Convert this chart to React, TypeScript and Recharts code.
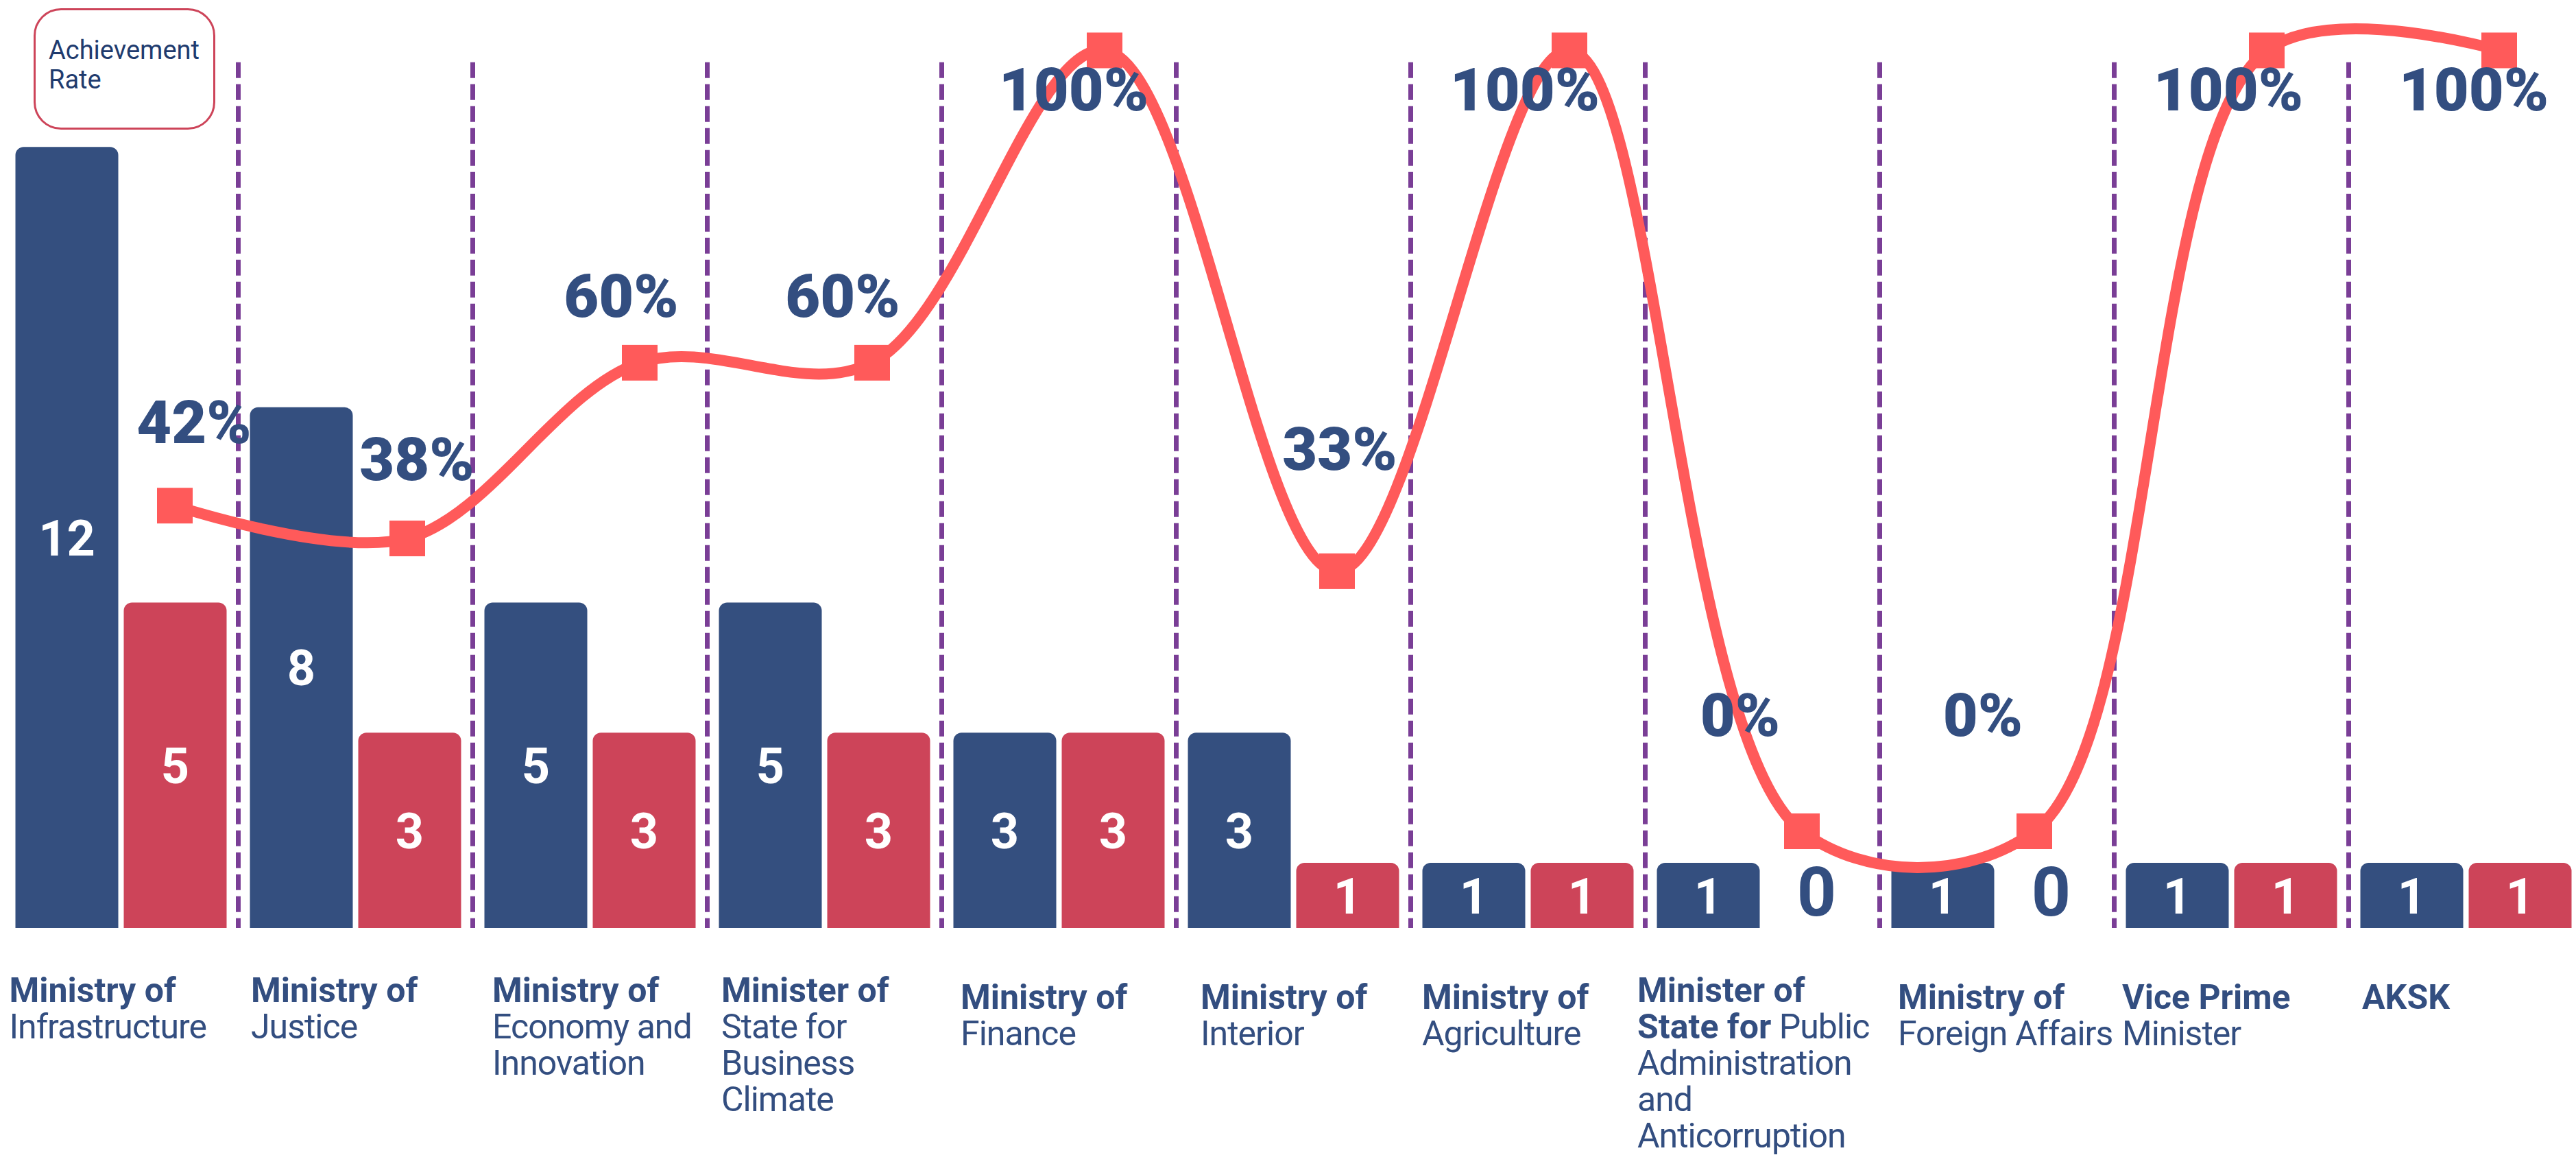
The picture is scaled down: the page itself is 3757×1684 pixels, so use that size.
import React from 'react';
import { ComposedChart, Bar, Line, XAxis, YAxis, ReferenceLine, LabelList } from 'recharts';

// ---------- data ----------
const categories = [
  'Ministry of Infrastructure',
  'Ministry of Justice',
  'Ministry of Economy and Innovation',
  'Minister of State for Business Climate',
  'Ministry of Finance',
  'Ministry of Interior',
  'Ministry of Agriculture',
  'Minister of State for Public Administration and Anticorruption',
  'Ministry of Foreign Affairs',
  'Vice Prime Minister',
  'AKSK',
];
const totalCommitments = [12, 8, 5, 5, 3, 3, 1, 1, 1, 1, 1];
const achievedCommitments = [5, 3, 3, 3, 3, 1, 1, 0, 0, 1, 1];
const achievementRate = [41.7, 37.5, 60, 60, 100, 33.3, 100, 0, 0, 100, 100];
// each tick label line: [bold part, regular part]
const tickLabelLines: [string, string][][] = [
  [['Ministry of', ''], ['', 'Infrastructure']],
  [['Ministry of', ''], ['', 'Justice']],
  [['Ministry of', ''], ['', 'Economy and'], ['', 'Innovation']],
  [['Minister of', ''], ['', 'State for'], ['', 'Business'], ['', 'Climate']],
  [['Ministry of', ''], ['', 'Finance']],
  [['Ministry of', ''], ['', 'Interior']],
  [['Ministry of', ''], ['', 'Agriculture']],
  [['Minister of', ''], ['State for', ' Public'], ['', 'Administration'], ['', 'and'], ['', 'Anticorruption']],
  [['Ministry of', ''], ['', 'Foreign Affairs']],
  [['Vice Prime', ''], ['', 'Minister']],
  [['AKSK', '']],
];
const legendLabel = ['Achievement', 'Rate'];

const rows = categories.map((name, i) => ({
  name,
  total: totalCommitments[i],
  achieved: achievedCommitments[i],
  rate: achievementRate[i],
}));

// ---------- layout / style ----------
const NAVY = '#334E80';
const BLUE = '#344F7F';
const RED = '#CD4459';
const LINE = '#FF5A5A';
const PURPLE = '#7A3E96';
const FONT = 'Roboto, "Noto Sans", sans-serif';
const DIVIDER_TOP = 13.3;
const BAR_GAP = 8;
const tickDx = [8, 18.5, 28.5, 20.5, 27.5, 35.5, 16.5, -11.5, 26.5, 11.5, 19.5];
const tickDy = [0, 0, 0, 0, 10, 10, 10, 0, 10, 10, 10];
const rateLabelOffset: [number, number][] = [
  [28, -122.5], [14, -116], [-27, -98], [-43, -98], [-45, 57], [4, -179],
  [-65, 57], [-90, -170], [-75, -170], [-56, 57], [-37, 57],
];

// d3-style centripetal Catmull-Rom spline factory
function catmullRom(alpha: number) {
  const EPS = 1e-12;
  return (context: any) => {
    const s: any = { _context: context };
    const pt = (x: number, y: number) => {
      let x1 = s._x1, y1 = s._y1, x2 = s._x2, y2 = s._y2;
      if (s._l01_a > EPS) {
        const a = 2 * s._l01_2a + 3 * s._l01_a * s._l12_a + s._l12_2a;
        const n = 3 * s._l01_a * (s._l01_a + s._l12_a);
        x1 = (x1 * a - s._x0 * s._l12_2a + s._x2 * s._l01_2a) / n;
        y1 = (y1 * a - s._y0 * s._l12_2a + s._y2 * s._l01_2a) / n;
      }
      if (s._l23_a > EPS) {
        const b = 2 * s._l23_2a + 3 * s._l23_a * s._l12_a + s._l12_2a;
        const m = 3 * s._l23_a * (s._l23_a + s._l12_a);
        x2 = (x2 * b + s._x1 * s._l23_2a - x * s._l12_2a) / m;
        y2 = (y2 * b + s._y1 * s._l23_2a - y * s._l12_2a) / m;
      }
      s._context.bezierCurveTo(x1, y1, x2, y2, s._x2, s._y2);
    };
    s.areaStart = () => { s._line = 0; };
    s.areaEnd = () => { s._line = NaN; };
    s.lineStart = () => {
      s._x0 = s._x1 = s._x2 = s._y0 = s._y1 = s._y2 = NaN;
      s._l01_a = s._l12_a = s._l23_a = s._l01_2a = s._l12_2a = s._l23_2a = s._point = 0;
    };
    s.lineEnd = () => {
      switch (s._point) {
        case 2: s._context.lineTo(s._x2, s._y2); break;
        case 3: s.point(s._x2, s._y2); break;
      }
      if (s._line || (s._line !== 0 && s._point === 1)) s._context.closePath();
      s._line = 1 - s._line;
    };
    s.point = (x: number, y: number) => {
      x = +x; y = +y;
      if (s._point) {
        const x23 = s._x2 - x, y23 = s._y2 - y;
        s._l23_2a = Math.pow(x23 * x23 + y23 * y23, alpha);
        s._l23_a = Math.sqrt(s._l23_2a);
      }
      switch (s._point) {
        case 0:
          s._point = 1;
          if (s._line) s._context.lineTo(x, y); else s._context.moveTo(x, y);
          break;
        case 1:
          s._point = 2;
          break;
        case 2:
          s._point = 3;
          pt(x, y);
          break;
        default:
          pt(x, y);
          break;
      }
      s._l01_a = s._l12_a; s._l12_a = s._l23_a;
      s._l01_2a = s._l12_2a; s._l12_2a = s._l23_2a;
      s._x0 = s._x1; s._x1 = s._x2; s._x2 = x;
      s._y0 = s._y1; s._y1 = s._y2; s._y2 = y;
    };
    return s;
  };
}
const rateCurve = catmullRom(0.5);

const CategoryTick = (props: any) => {
  const { x, y, payload } = props;
  const i = payload.index;
  const lines = tickLabelLines[i] || [];
  const left = x - 171 + tickDx[i];
  const base = y + 78 + tickDy[i];
  return (
    <g>
      {lines.map((ln, j) => (
        <text key={j} x={left} y={base + j * 53} fontSize={50} fill={NAVY} fontFamily={FONT} textAnchor="start">
          {ln[0] ? <tspan fontWeight={700}>{ln[0]}</tspan> : null}
          {ln[1] ? <tspan fontWeight={400} letterSpacing={-1}>{ln[1]}</tspan> : null}
        </text>
      ))}
    </g>
  );
};

const getBox = (props: any) => {
  const vb = props.viewBox || {};
  return {
    x: props.x ?? vb.x,
    y: props.y ?? vb.y,
    width: props.width ?? vb.width ?? 0,
    height: props.height ?? vb.height ?? 0,
  };
};

const valueText = (x: number, y: number, v: number) => (
  <text x={x} y={y} textAnchor="middle" fontSize={72} fontWeight={700} fill="#fff" fontFamily={FONT}>
    {v}
  </text>
);

// blue bar label; also draws the "0" of an empty achieved bar next to it
const renderTotalLabel = (props: any) => {
  const { x, y, width, height } = getBox(props);
  const i = props.index;
  const achieved = rows[i] ? rows[i].achieved : null;
  return (
    <g>
      {valueText(x + width / 2, y + height / 2 + 26, props.value)}
      {achieved === 0 ? (
        <text
          x={x + width + BAR_GAP + width / 2}
          y={y + height - 18}
          textAnchor="middle"
          fontSize={100}
          fontWeight={700}
          fill={NAVY}
          fontFamily={FONT}
        >
          {achieved}
        </text>
      ) : null}
    </g>
  );
};

const renderAchievedLabel = (props: any) => {
  const { x, y, width, height } = getBox(props);
  if (!props.value) return <g />;
  return valueText(x + width / 2, y + height / 2 + 26, props.value);
};

const renderRateLabel = (props: any) => {
  const { x, y } = getBox(props);
  const i = props.index;
  const [dx, dy] = rateLabelOffset[i] || [0, -80];
  return (
    <text x={x + dx} y={y + dy + 31} textAnchor="middle" fontSize={88} fontWeight={900} fill={NAVY} fontFamily={FONT}>
      {Math.round(props.value)}%
    </text>
  );
};

const renderSquare = (props: any) => {
  const { cx, cy, index } = props;
  if (cx == null || cy == null) return <g key={`d${index}`} />;
  return <rect key={`d${index}`} x={cx - 26} y={cy - 26} width={52} height={52} fill={LINE} />;
};

export default function App() {
  return (
    <div style={{ position: 'absolute', left: 0, top: 0, width: 3757, height: 1684, overflow: 'hidden', background: '#fff' }}>
      <ComposedChart
        width={3770}
        height={1684}
        data={rows}
        margin={{ top: 24.4, right: 2.5, bottom: 31, left: 5.5 }}
        barGap={BAR_GAP}
      >
        <XAxis
          xAxisId="main"
          dataKey="name"
          height={300}
          interval={0}
          axisLine={false}
          tickLine={false}
          tickSize={0}
          tickMargin={0}
          tick={<CategoryTick />}
        />
        <XAxis xAxisId="rate" dataKey="name" hide scale="band" padding={{ left: 80, right: -47 }} />
        <XAxis xAxisId="grid" dataKey="name" hide scale="band" padding={{ left: 171, right: -171 }} />
        <YAxis yAxisId="bars" domain={[0, 14]} hide />
        <YAxis yAxisId="rate" domain={[-12.385, 104.31]} hide />
        {categories.slice(0, -1).map((c) => (
          <ReferenceLine
            key={`b${c}`}
            xAxisId="grid"
            yAxisId="bars"
            segment={[{ x: c, y: DIVIDER_TOP }, { x: c, y: 0 }]}
            stroke={PURPLE}
            strokeWidth={7}
            strokeDasharray="23 9"
            ifOverflow="visible"
          />
        ))}
        <Bar xAxisId="main" yAxisId="bars" dataKey="total" name="Total" fill={BLUE} barSize={150} radius={[12, 12, 0, 0]} isAnimationActive={false}>
          <LabelList dataKey="total" content={renderTotalLabel} />
        </Bar>
        <Bar xAxisId="main" yAxisId="bars" dataKey="achieved" name="Achieved" fill={RED} barSize={150} radius={[12, 12, 0, 0]} isAnimationActive={false}>
          <LabelList dataKey="achieved" content={renderAchievedLabel} />
        </Bar>
        <Line
          xAxisId="rate"
          yAxisId="rate"
          type={rateCurve as any}
          dataKey="rate"
          name="Achievement Rate"
          stroke={LINE}
          strokeWidth={16}
          dot={renderSquare}
          activeDot={false}
          isAnimationActive={false}
        >
          <LabelList dataKey="rate" content={renderRateLabel} />
        </Line>
      </ComposedChart>
      <div
        style={{
          position: 'absolute',
          left: 49,
          top: 12,
          width: 265,
          height: 177,
          border: `3px solid ${RED}`,
          borderRadius: 40,
          paddingLeft: 19,
          paddingTop: 36.5,
          boxSizing: 'border-box',
          fontFamily: FONT,
          fontSize: 38,
          lineHeight: '43px',
          color: '#1F3B6E',
        }}
      >
        {legendLabel.map((t) => (
          <div key={t}>{t}</div>
        ))}
      </div>
    </div>
  );
}
